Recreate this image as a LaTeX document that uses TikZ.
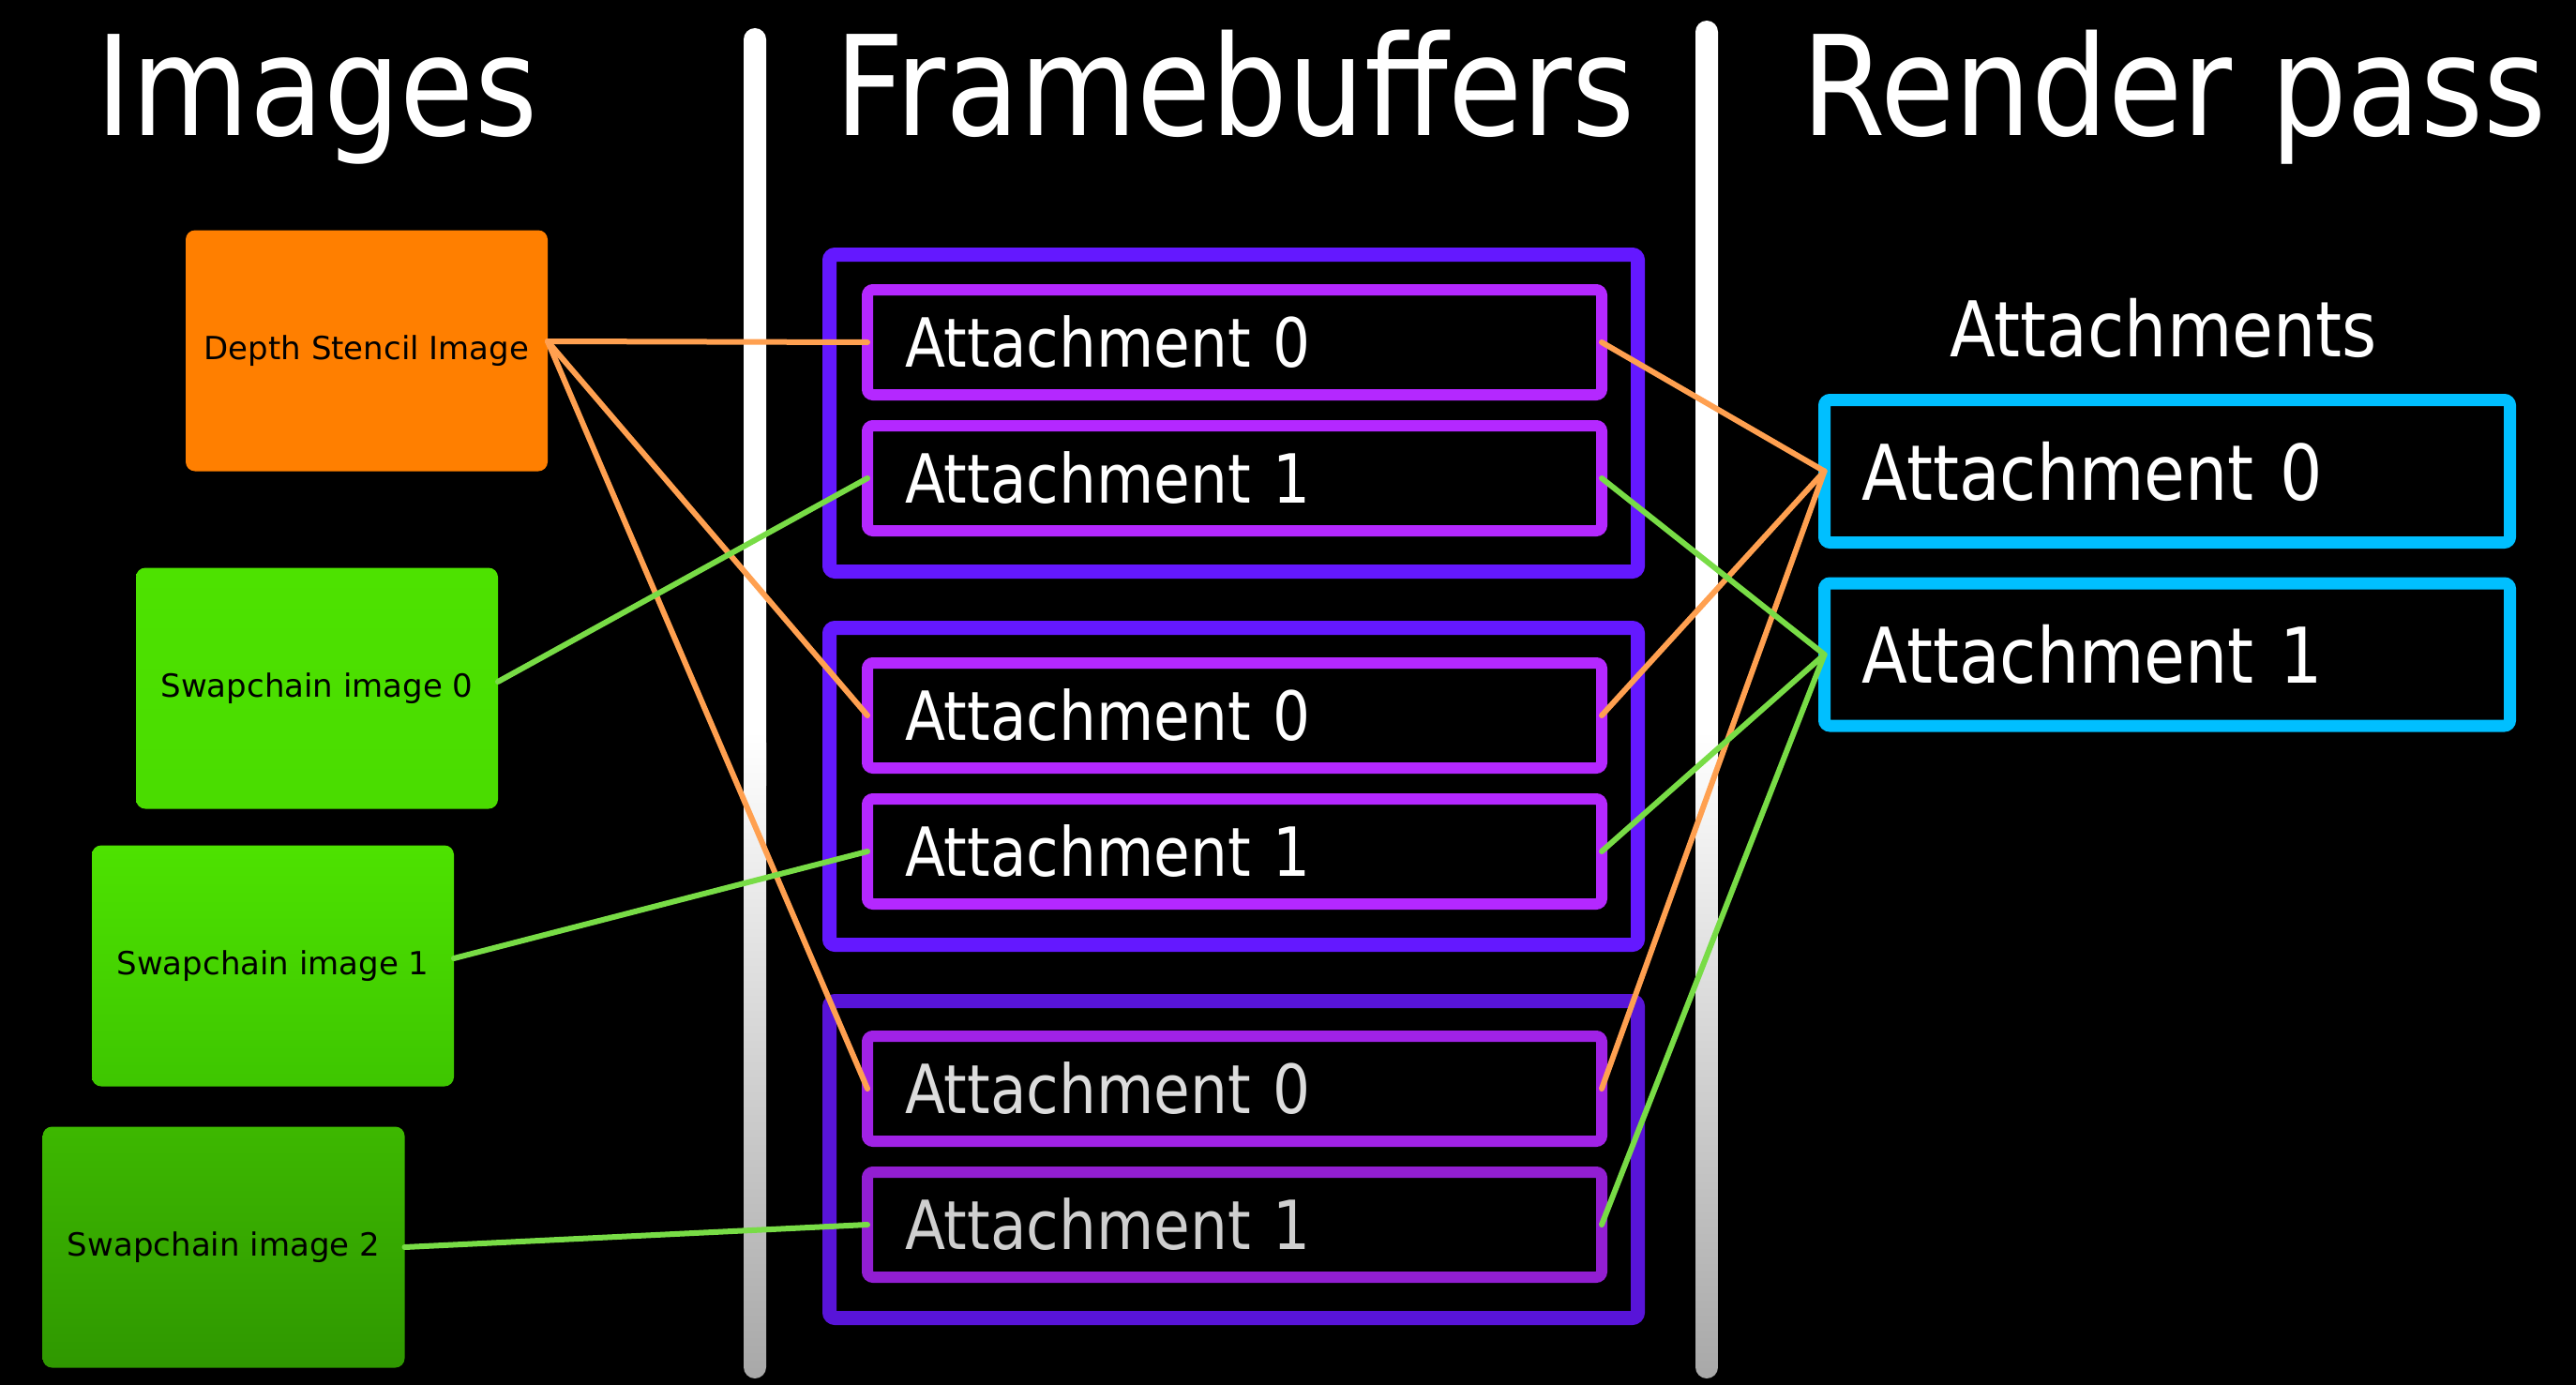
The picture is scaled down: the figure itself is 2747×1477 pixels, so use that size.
\documentclass[tikz,border=0pt]{standalone}
\usepackage{fontspec}
\setmainfont{DejaVu Sans}
\newfontfamily\tfont{DejaVu Sans}[FakeStretch=0.87]
\usetikzlibrary{calc}
\definecolor{fbblue}{HTML}{6418FF}
\definecolor{fbbluedark}{HTML}{5814D8}
\definecolor{attpurple}{HTML}{B428FF}
\definecolor{attpurpledark}{HTML}{A022E6}
\definecolor{attpurpledarker}{HTML}{921ED2}
\definecolor{rpcyan}{HTML}{00BFFF}
\definecolor{dsorange}{HTML}{FF7F00}
\definecolor{orangeln}{HTML}{FFA050}
\definecolor{greenln}{HTML}{78DC46}
\definecolor{gA}{HTML}{4DE200}
\definecolor{gB}{HTML}{4ADC00}
\definecolor{gC}{HTML}{3EC600}
\definecolor{gD}{HTML}{3DB800}
\definecolor{gE}{HTML}{2F9800}
\definecolor{bargray}{HTML}{A8A8A8}
\definecolor{dimtext}{HTML}{DCDCDC}
\definecolor{dimtextb}{HTML}{CFCFCF}
\tikzset{
  lbl/.style={rounded corners=10pt, minimum width=386pt, minimum height=257pt,
    inner sep=0pt, outer sep=0pt, font=\fontsize{34}{40}\selectfont, text=black},
  fbox/.style={draw=fbblue, line width=15pt, rounded corners=6pt, minimum width=862pt,
    minimum height=338pt, inner sep=0pt, outer sep=0pt},
  att/.style={draw=attpurple, line width=12pt, rounded corners=6pt, minimum height=112pt,
    text width=703pt, inner xsep=40pt, inner ysep=0pt, align=left, outer sep=0pt,
    text=white, font=\tfont\fontsize{72.3}{80}\selectfont},
  rpatt/.style={draw=rpcyan, line width=13pt, rounded corners=6pt, minimum height=152pt,
    text width=651pt, inner xsep=40pt, inner ysep=0pt, align=left, outer sep=0pt,
    text=white, font=\tfont\fontsize{82}{90}\selectfont},
  title/.style={text=white, font=\tfont\fontsize{148}{154}\selectfont, anchor=base, inner sep=0pt},
  subtitle/.style={text=white, font=\tfont\fontsize{82}{90}\selectfont, anchor=base, inner sep=0pt},
  link/.style={line width=6pt, line cap=round},
}
\begin{document}
\begin{tikzpicture}[x=1pt,y=-1pt]
\useasboundingbox (0,0) rectangle (2747,1477);
\fill[black] (0,0) rectangle (2747,1477);

% separator bars
\fill[white, rounded corners=12pt] (793,30) rectangle (817,850);
\shade[top color=white, bottom color=bargray, rounded corners=12pt] (793,780) rectangle (817,1470);
\fill[white, rounded corners=12pt] (1808,22) rectangle (1832,850);
\shade[top color=white, bottom color=bargray, rounded corners=12pt] (1808,780) rectangle (1832,1470);

% titles
\node[title] (tImages) at (338,145) {Images};
\node[title] (tFB) at (1317,145) {Framebuffers};
\node[title] (tRP) at (2319,145) {Render pass};

% images
\node[lbl, fill=dsorange] (ds) at (391,374) {Depth Stencil Image};
\node[lbl, top color=gA, bottom color=gB] (sw0) at (338,734) {Swapchain image 0};
\node[lbl, top color=gA, bottom color=gC] (sw1) at (291,1030) {Swapchain image 1};
\node[lbl, top color=gD, bottom color=gE] (sw2) at (238.5,1330) {Swapchain image 2};

% framebuffers
\node[fbox] (fb1) at (1315.5,440.5) {};
\node[fbox] (fb2) at (1315.5,838.5) {};
\node[fbox, draw=fbbluedark] (fb3) at (1315.5,1236.5) {};

\node[att] (f1a0) at (1316.5,365) {Attachment 0};
\node[att] (f1a1) at (1316.5,510) {Attachment 1};
\node[att] (f2a0) at (1316.5,763) {Attachment 0};
\node[att] (f2a1) at (1316.5,908) {Attachment 1};
\node[att, draw=attpurpledark, text=dimtext] (f3a0) at (1316.5,1161) {Attachment 0};
\node[att, draw=attpurpledarker, text=dimtextb] (f3a1) at (1316.5,1306) {Attachment 1};

% render pass
\node[subtitle] (rpt) at (2307,380) {Attachments};
\node[rpatt] (rp0) at (2311,502.5) {Attachment 0};
\node[rpatt] (rp1) at (2311,698) {Attachment 1};

% connectors
\coordinate (dsport) at ($(ds.east)+(0,-10)$);
\draw[link, orangeln] (dsport) -- (f1a0.west);
\draw[link, orangeln] (dsport) -- (f2a0.west);
\draw[link, orangeln] (dsport) -- (f3a0.west);
\draw[link, greenln] ($(sw0.east)+(0,-7)$) -- (f1a1.west);
\draw[link, greenln] ($(sw1.east)+(0,-8)$) -- (f2a1.west);
\draw[link, greenln] (sw2.east) -- (f3a1.west);

\draw[link, orangeln] (f1a0.east) -- (rp0.west);
\draw[link, orangeln] (f2a0.east) -- (rp0.west);
\draw[link, orangeln] (f3a0.east) -- (rp0.west);
\draw[link, greenln] (f1a1.east) -- (rp1.west);
\draw[link, greenln] (f2a1.east) -- (rp1.west);
\draw[link, greenln] (f3a1.east) -- (rp1.west);
\end{tikzpicture}
\end{document}
